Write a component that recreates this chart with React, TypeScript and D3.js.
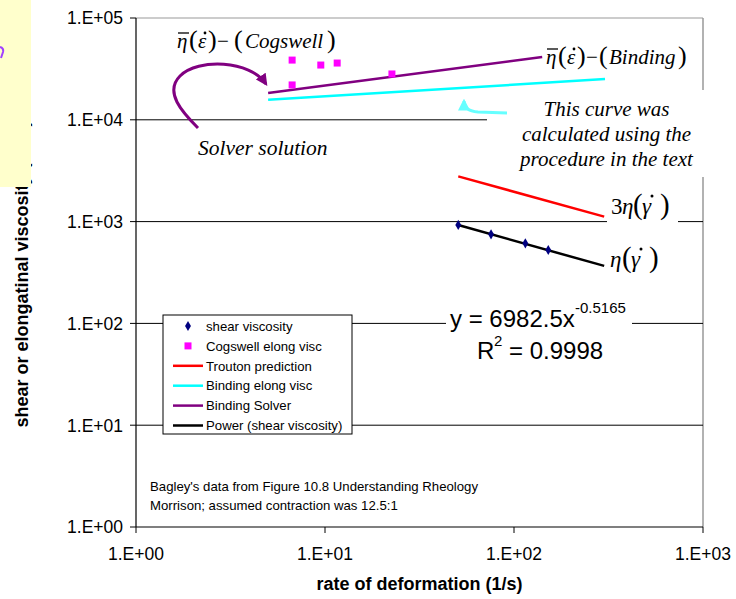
import React from "react";
import * as d3 from "d3";

const shearRate = [50.7, 75.6, 114.8, 151.8];
const shearVisc = [927, 750, 612, 526];
const cogRate = [6.7, 6.7, 9.5, 11.6, 22.6];
const cogVisc = [38600, 22000, 34500, 36100, 28200];
const troutonRate = [50.7, 300];
const troutonVisc = [2780, 1120];
const bindingRate = [5, 303];
const bindingVisc = [15700, 25100];
const solverRate = [5, 141];
const solverVisc = [18300, 41400];
const powerRate = [50.7, 300];
const powerVisc = [925, 367];

const xTicks = [1, 10, 100, 1000];
const yTicks = [1, 10, 100, 1000, 10000, 100000];
const tickLabel = (v: number) => "1.E+" + String(Math.round(Math.log10(v))).padStart(2, "0");

const legendItems = [
  { label: "shear viscosity", kind: "diamond", color: "#000080" },
  { label: "Cogswell elong visc", kind: "square", color: "#FF00FF" },
  { label: "Trouton prediction", kind: "line", color: "#FF0000" },
  { label: "Binding elong visc", kind: "line", color: "#00FFFF" },
  { label: "Binding Solver", kind: "line", color: "#800080" },
  { label: "Power (shear viscosity)", kind: "line", color: "#000000" },
];

const W = 736, H = 599;
const L = 136, R = 703, T = 18, B = 527;
const serif = "'Liberation Serif', 'DejaVu Serif', serif";
const sans = "'Liberation Sans', Arial, sans-serif";

function P({ x, y, s, it, c }: { x: number; y: number; s: number; it?: boolean; c: string }) {
  return (
    <text x={x} y={y} fontSize={s} fontStyle={it ? "italic" : "normal"} fontFamily={serif}>
      {c}
    </text>
  );
}

export default function App() {
  const x = d3.scaleLog().domain([1, 1000]).range([L, R]);
  const y = d3.scaleLog().domain([1, 100000]).range([B, T]);
  const line = (xs: number[], ys: number[]) =>
    d3.line<number>().x((_, i) => x(xs[i])).y((_, i) => y(ys[i]))(xs.map((_, i) => i)) || "";
  const diamond = d3.symbol().type(d3.symbolDiamond).size(30)() || "";

  return (
    <svg width={W} height={H} style={{ position: "absolute", left: 0, top: 0, background: "#fff" }} fontFamily={sans}>
      <defs>
        <marker id="arrP" viewBox="0 0 10 10" refX="8" refY="5" markerWidth="4" markerHeight="4" orient="auto">
          <path d="M0,0 L10,5 L0,10 z" fill="#800080" />
        </marker>
        <marker id="arrC" viewBox="0 0 10 10" refX="8" refY="5" markerWidth="4" markerHeight="4" orient="auto">
          <path d="M0,0 L10,5 L0,10 z" fill="#66FFFF" />
        </marker>
      </defs>
      <rect width={W} height={H} fill="#fff" />
      {/* plot border */}
      <line x1={L} x2={R} y1={T} y2={T} stroke="#999" strokeWidth={1.2} />
      <line x1={R} x2={R} y1={T} y2={B} stroke="#999" strokeWidth={1.5} />
      {/* gridlines */}
      {yTicks.slice(1, -1).map((t) => (
        <line key={t} x1={L} x2={R} y1={y(t)} y2={y(t)} stroke="#000" strokeWidth={1} />
      ))}
      {/* axes */}
      <line x1={L} x2={L} y1={T} y2={B} stroke="#000" strokeWidth={1.2} />
      <line x1={L} x2={R} y1={B} y2={B} stroke="#000" strokeWidth={1.2} />
      {yTicks.map((t) => (
        <g key={t}>
          <line x1={L - 6} x2={L} y1={y(t)} y2={y(t)} stroke="#000" />
          <text x={123} y={y(t) + 6.3} textAnchor="end" fontSize={17.5}>{tickLabel(t)}</text>
        </g>
      ))}
      {xTicks.map((t) => (
        <g key={t}>
          <line x1={x(t)} x2={x(t)} y1={B} y2={B + 6} stroke="#000" />
          <text x={x(t)} y={559.5} textAnchor="middle" fontSize={17.5}>{tickLabel(t)}</text>
        </g>
      ))}
      <text x={(L + R) / 2} y={589.5} textAnchor="middle" fontSize={18} fontWeight="bold">rate of deformation (1/s)</text>
      <text transform="translate(28,274) rotate(-90)" textAnchor="middle" fontSize={18} fontWeight="bold">shear or elongatinal viscosity (Pa s)</text>

      {/* white boxes covering gridlines */}
      <rect x={487} y={90} width={240} height={87} fill="#fff" />
      <rect x={607} y={192} width={71} height={38} fill="#fff" />
      <rect x={446} y={302} width={186} height={64} fill="#fff" />

      {/* data lines */}
      <path d={line(bindingRate, bindingVisc)} stroke="#00FFFF" strokeWidth={2.5} fill="none" />
      <path d={line(solverRate, solverVisc)} stroke="#800080" strokeWidth={2.5} fill="none" />
      <path d={line(troutonRate, troutonVisc)} stroke="#FF0000" strokeWidth={2.5} fill="none" />
      <path d={line(powerRate, powerVisc)} stroke="#000" strokeWidth={2.5} fill="none" />
      {shearRate.map((r, i) => (
        <path key={i} d={diamond} transform={`translate(${x(r)},${y(shearVisc[i])})`} fill="#000080" />
      ))}
      {cogRate.map((r, i) => (
        <rect key={i} x={x(r) - 3.5} y={y(cogVisc[i]) - 3.5} width={7} height={7} fill="#FF00FF" />
      ))}

      {/* legend */}
      <rect x={163} y={315} width={189} height={119} fill="#fff" stroke="#000" strokeWidth={1} />
      {legendItems.map((it, i) => {
        const cy = 326 + i * 19.9;
        return (
          <g key={it.label}>
            {it.kind === "line" && <line x1={173} x2={203} y1={cy} y2={cy} stroke={it.color} strokeWidth={2.5} />}
            {it.kind === "diamond" && <path d={diamond} transform={`translate(188,${cy})`} fill={it.color} />}
            {it.kind === "square" && <rect x={184.5} y={cy - 3.5} width={7} height={7} fill={it.color} />}
            <text x={206} y={cy + 4.7} fontSize={13.2}>{it.label}</text>
          </g>
        );
      })}

      {/* note */}
      <text x={150} y={491} fontSize={13.2}>Bagley's data from Figure 10.8 Understanding Rheology</text>
      <text x={150} y={510} fontSize={13.2}>Morrison; assumed contraction was 12.5:1</text>

      {/* equation */}
      <text x={450} y={327} fontSize={24}>y = 6982.5x</text>
      <text x={575} y={313} fontSize={15}>-0.5165</text>
      <text x={477} y={359} fontSize={24}>R</text>
      <text x={494} y={346} fontSize={15}>2</text>
      <text x={509} y={359} fontSize={24}>= 0.9998</text>

      {/* math annotations: Cogswell */}
      <line x1={178} x2={189} y1={33} y2={33} stroke="#000" strokeWidth={1.3} />
      <P x={177} y={48} s={21} it c="η" />
      <P x={189} y={48} s={26} c="(" />
      <P x={198} y={48} s={21} it c="ε" />
      <circle cx={205} cy={33} r={1.4} fill="#000" />
      <P x={208} y={48} s={26} c=")" />
      <P x={217} y={48} s={21} c="−" />
      <P x={234} y={48} s={26} c="(" />
      <P x={245} y={48} s={21} it c="Cogswell" />
      <P x={327} y={48} s={26} c=")" />

      {/* Binding */}
      <line x1={547} x2={558} y1={49} y2={49} stroke="#000" strokeWidth={1.3} />
      <P x={546} y={64} s={21} it c="η" />
      <P x={558} y={64} s={26} c="(" />
      <P x={567} y={64} s={21} it c="ε" />
      <circle cx={574} cy={49} r={1.4} fill="#000" />
      <P x={577} y={64} s={26} c=")" />
      <P x={586} y={64} s={21} c="−" />
      <P x={599} y={64} s={26} c="(" />
      <P x={609} y={64} s={21} it c="Binding" />
      <P x={678} y={64} s={26} c=")" />

      {/* 3 eta(gamma dot) */}
      <P x={611} y={214} s={23} c="3" />
      <P x={622} y={214} s={23} it c="η" />
      <P x={633} y={214} s={29} c="(" />
      <P x={642} y={214} s={23} it c="γ" />
      <circle cx={652} cy={196} r={1.5} fill="#000" />
      <P x={660} y={214} s={29} c=")" />

      {/* eta(gamma dot) */}
      <P x={610} y={267} s={23} it c="η" />
      <P x={622} y={267} s={29} c="(" />
      <P x={631} y={267} s={23} it c="γ" />
      <circle cx={641} cy={249} r={1.5} fill="#000" />
      <P x={649} y={267} s={29} c=")" />

      <g fontFamily={serif} fontSize={21} fontStyle="italic" textAnchor="middle">
        <text x={606.5} y={116}>This curve was</text>
        <text x={606.5} y={141}>calculated using the</text>
        <text x={606.5} y={166}>procedure in the text</text>
      </g>
      <text x={198} y={155} fontFamily={serif} fontSize={21.5} fontStyle="italic">Solver solution</text>

      {/* arrows */}
      <path d="M198,128 C182,112 164,92 180,76 C198,58 250,60 266,84" stroke="#800080" strokeWidth={3} fill="none" markerEnd="url(#arrP)" />
      <path d="M507,113 L478,112 Q464,111 464,101" stroke="#66FFFF" strokeWidth={3} fill="none" markerEnd="url(#arrC)" />

      {/* yellow box on left edge */}
      <rect x={0} y={0} width={31} height={187} fill="#FFFFCC" />
      <path d="M0,47 Q4,48 3,52 L1,58" stroke="#A040FF" strokeWidth={2} fill="none" />
    </svg>
  );
}
